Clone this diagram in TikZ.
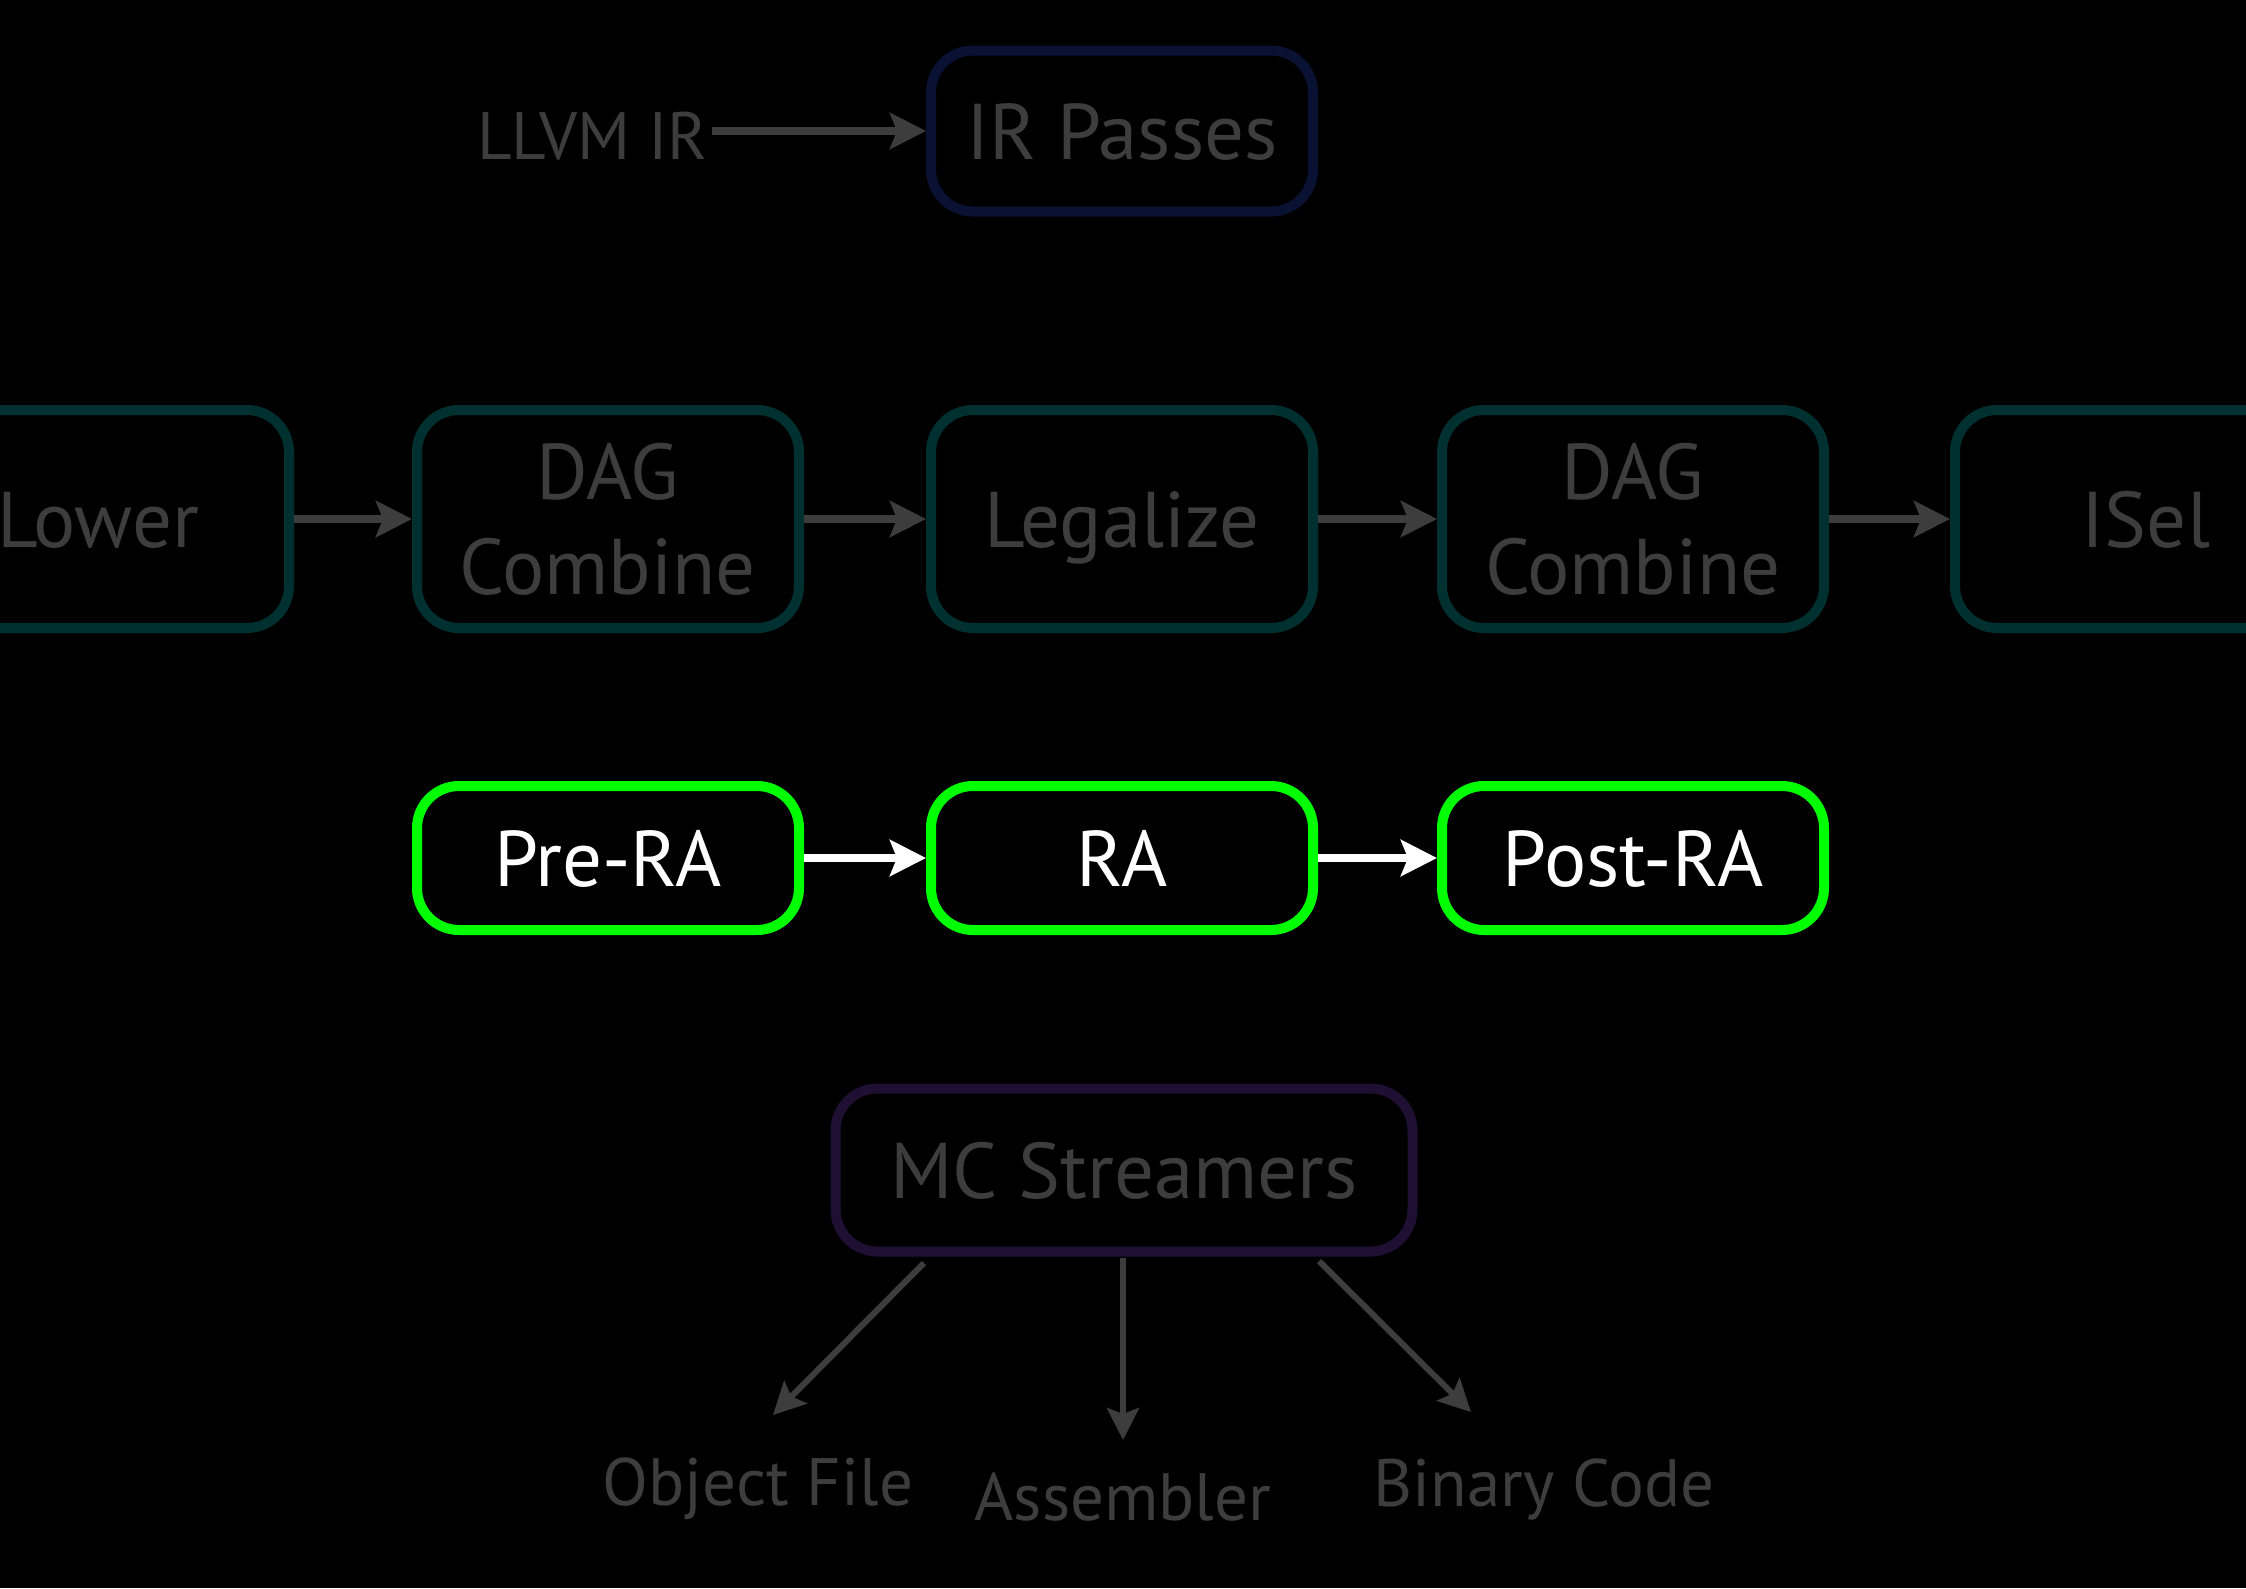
\documentclass[tikz,border=0pt]{standalone}
\usepackage{fontspec}
\setmainfont{PT Sans}
\usetikzlibrary{arrows.meta}
\definecolor{txtgray}{HTML}{3D3D3D}
\definecolor{navyb}{HTML}{0A1233}
\definecolor{tealb}{HTML}{003030}
\definecolor{greenb}{HTML}{00FF00}
\definecolor{purpb}{HTML}{1F1033}
\tikzset{
  box/.style={draw, line width=10pt, rounded corners=42pt, inner sep=0pt,
    minimum width=382pt, minimum height=218pt, align=center, text=txtgray,
    font=\fontsize{79}{95}\selectfont},
  onel/.style={text height=56pt, text depth=0pt},
  irbox/.style={box, onel, draw=navyb, minimum height=161pt},
  dagbox/.style={box, draw=tealb},
  rabox/.style={box, onel, draw=greenb, minimum height=144pt, text=white},
  mcbox/.style={box, onel, draw=purpb, minimum width=577pt, minimum height=163pt},
  lbl/.style={text=txtgray, inner sep=4pt, font=\fontsize{67}{80}\selectfont},
  garrow/.style={draw=txtgray, line width=7.5pt,
    -{Stealth[length=36pt,width=36pt,inset=7pt]}},
  warrow/.style={draw=white, line width=7.5pt,
    -{Stealth[length=36pt,width=36pt,inset=7pt]}},
  tarrow/.style={draw=txtgray, line width=6pt,
    -{Stealth[length=32pt,width=32pt,inset=6pt]}},
}
\begin{document}
\begin{tikzpicture}[x=1pt,y=-1pt]
\useasboundingbox (0,0) rectangle (2246,1588);
\fill[black] (0,0) rectangle (2246,1588);
\clip (0,0) rectangle (2246,1588);

% top row
\node[irbox] (irp) at (1122,131) {IR Passes};
\node[lbl, anchor=east] (llvm) at (712,136) {LLVM IR};
\draw[garrow] (llvm.east |- irp.west) -- (irp.west);

% DAG row
\node[dagbox, onel] (lower) at (98,519) {Lower};
\node[dagbox] (dag1) at (608,519) {DAG\\Combine};
\node[dagbox, onel] (legal) at (1122,519) {Legalize};
\node[dagbox] (dag2) at (1633,519) {DAG\\Combine};
\node[dagbox, onel] (isel) at (2146,519) {ISel};
\draw[garrow] (lower) -- (dag1);
\draw[garrow] (dag1) -- (legal);
\draw[garrow] (legal) -- (dag2);
\draw[garrow] (dag2) -- (isel);

% RA row
\node[rabox] (prera) at (608,858) {Pre-RA};
\node[rabox] (ra) at (1122,858) {RA};
\node[rabox] (postra) at (1633,858) {Post-RA};
\draw[warrow] (prera) -- (ra);
\draw[warrow] (ra) -- (postra);

% MC row
\node[mcbox] (mc) at (1124,1170) {MC Streamers};
\node[lbl] (obj) at (758,1489) {Object File};
\node[lbl] (asm) at (1123,1497) {Assembler};
\node[lbl] (bin) at (1544,1489) {Binary Code};
\coordinate (s1) at (924,1263);
\coordinate (e1) at (773,1415);
\coordinate (s2) at (1123,1258);
\coordinate (e2) at (1123,1440);
\coordinate (s3) at (1319,1261);
\coordinate (e3) at (1471,1412);
\draw[tarrow] (s1) -- (e1);
\draw[tarrow] (s2) -- (e2);
\draw[tarrow] (s3) -- (e3);
\end{tikzpicture}
\end{document}
